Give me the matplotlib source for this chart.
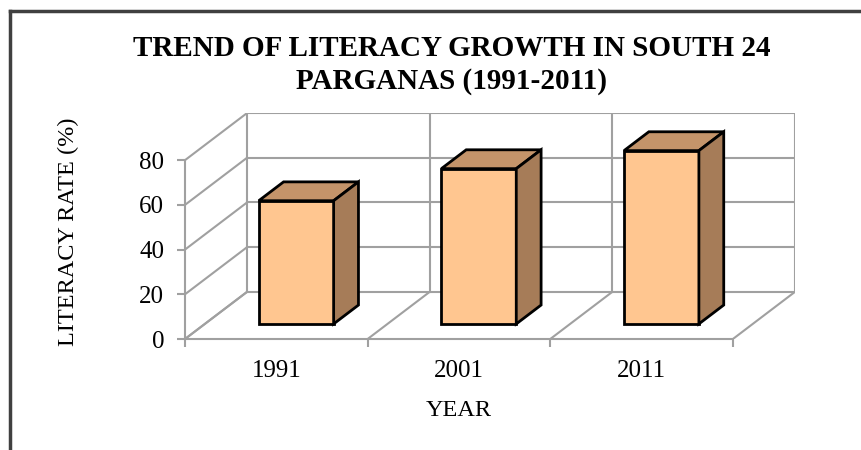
import numpy as np
import matplotlib
matplotlib.use("Agg")
import matplotlib.pyplot as plt
from matplotlib.patches import Polygon
from matplotlib.lines import Line2D

# ---------------------------------------------------------------------------
# Data
# ---------------------------------------------------------------------------
years = ["1991", "2001", "2011"]
literacy = [55.10, 69.45, 77.51]
y_ticks = [0, 20, 40, 60, 80]

# ---------------------------------------------------------------------------
# Pseudo-3D geometry (depth offset in data units)
# ---------------------------------------------------------------------------
DX, DY = 0.34, 21.1          # full depth of the plot box
BAR_T0, BAR_D = 0.32, 0.40   # bar front position / bar depth (fraction)
BAR_W = 0.41
GRID = "#a0a0a0"
FRONT, TOP, SIDE = "#ffc690", "#c4946a", "#a67c58"

plt.rcParams["font.family"] = ["Liberation Serif", "DejaVu Serif"]

fig = plt.figure(figsize=(8.61, 4.5), dpi=100)
ax = fig.add_axes([185 / 861, (450 - 339) / 450, (795 - 185) / 861, (339 - 113) / 450])
n = len(years)
ymax = y_ticks[-1]
ax.set_xlim(0, n + DX)
ax.set_ylim(0, ymax + DY)

# walls and floor
for v in y_ticks:
    ax.plot([DX, n + DX], [v + DY, v + DY], color=GRID, lw=1.5, zorder=1)
    ax.plot([0, DX], [v, v + DY], color=GRID, lw=1.5, zorder=1)
for i in range(n + 1):
    ax.plot([i + DX, i + DX], [DY, ymax + DY], color=GRID, lw=1.5, zorder=1)
    ax.plot([i, i + DX], [0, DY], color=GRID, lw=1.5, zorder=1)

# bars
xc = np.arange(n) + 0.5 + BAR_T0 * DX
base = BAR_T0 * DY
ax.bar(xc, literacy, width=BAR_W, bottom=base, color=FRONT,
       edgecolor="black", linewidth=2, zorder=3)
for x, v in zip(xc, literacy):
    l, r, t = x - BAR_W / 2, x + BAR_W / 2, base + v
    ddx, ddy = BAR_D * DX, BAR_D * DY
    ax.add_patch(Polygon([(l, t), (r, t), (r + ddx, t + ddy), (l + ddx, t + ddy)],
                         closed=True, fc=TOP, ec="black", lw=2, zorder=3,
                         joinstyle="miter"))
    ax.add_patch(Polygon([(r, base), (r, t), (r + ddx, t + ddy), (r + ddx, base + ddy)],
                         closed=True, fc=SIDE, ec="black", lw=2, zorder=3,
                         joinstyle="miter"))

# axes
for s in ["top", "right"]:
    ax.spines[s].set_visible(False)
ax.spines["left"].set_bounds(0, ymax)
ax.spines["bottom"].set_bounds(0, n)
for s in ["left", "bottom"]:
    ax.spines[s].set_color(GRID)
    ax.spines[s].set_linewidth(1.5)
    ax.spines[s].set_zorder(2)

ax.set_yticks(y_ticks)
ax.tick_params(axis="y", direction="out", length=6, width=1.5, color=GRID,
               labelsize=18, pad=9)
ax.set_xticks(np.arange(n) + 0.5)
ax.set_xticklabels(years)
ax.set_xticks(np.arange(n + 1), minor=True)
ax.tick_params(axis="x", which="major", length=0, labelsize=18, pad=15)
ax.tick_params(axis="x", which="minor", direction="out", length=6, width=1.5,
               color=GRID)

fig.text(452 / 861, 1 - 65 / 450, "TREND OF LITERACY GROWTH IN SOUTH 24\nPARGANAS (1991-2011)",
         ha="center", va="center", fontsize=21, fontweight="bold",
         linespacing=1.25)
fig.text(68 / 861, 1 - 232 / 450, "LITERACY RATE (%)", rotation=90,
         ha="center", va="center", fontsize=17.5)
fig.text(459 / 861, 1 - 410 / 450, "YEAR", ha="center", va="center", fontsize=17.5)

# outer frame (left and top edges only)
fig.add_artist(Line2D([10 / 861, 10 / 861], [0, 1 - 11 / 450],
                      color="#404040", lw=2.5, transform=fig.transFigure))
fig.add_artist(Line2D([10 / 861, 1], [1 - 11 / 450, 1 - 11 / 450],
                      color="#404040", lw=2.5, transform=fig.transFigure))

fig.savefig("out.png", dpi=100)
